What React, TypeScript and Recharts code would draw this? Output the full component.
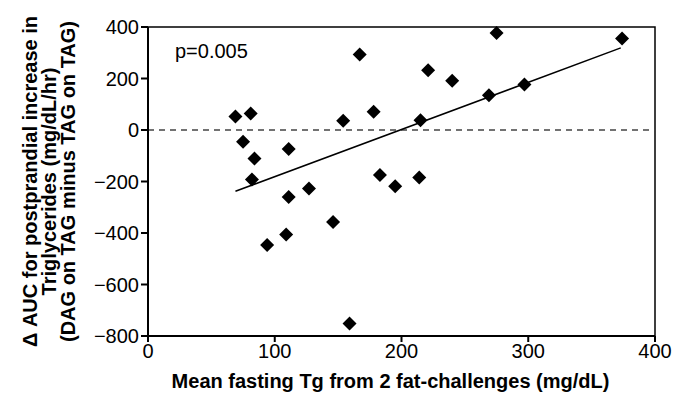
import {
  ScatterChart,
  Scatter,
  XAxis,
  YAxis,
  ReferenceLine,
  ReferenceArea,
  Label
} from "recharts";

// mean fasting Tg (mg/dL) and delta AUC
const fastingTg = [69, 81, 75, 84, 82, 111, 167, 154, 178, 183, 195, 111, 127, 146, 109, 94, 159, 275, 374, 221, 240, 269, 297, 215, 214];
const deltaAuc = [52, 64, -46, -111, -192, -74, 293, 36, 71, -175, -218, -260, -227, -357, -406, -447, -751, 377, 355, 232, 191, 135, 177, 38, -184];

// regression line end points
const fitX = [69, 373];
const fitY = [-238, 319];

const xTicks = [0, 100, 200, 300, 400];
const yTicks = [-800, -600, -400, -200, 0, 200, 400];

const points = fastingTg.map((x, i) => ({ x, y: deltaAuc[i] }));
const fit = fitX.map((x, i) => ({ x, y: fitY[i] }));

const font = "Arial, 'Liberation Sans', sans-serif";

function Diamond(props: any) {
  const { cx, cy } = props;
  const r = 7;
  return (
    <polygon
      points={`${cx},${cy - r} ${cx + r},${cy} ${cx},${cy + r} ${cx - r},${cy}`}
      fill="#000"
    />
  );
}

function YTitle(props: any) {
  const { viewBox } = props;
  const cy = viewBox.y + viewBox.height / 2;
  const lines = [
    "\u0394 AUC for postprandial increase in",
    "Triglycerides (mg/dL/hr)",
    "(DAG on TAG minus TAG on TAG)"
  ];
  const xs = [30, 49, 68];
  return (
    <g>
      {lines.map((t, i) => (
        <text
          key={i}
          x={xs[i]}
          y={cy}
          transform={`rotate(-90, ${xs[i]}, ${cy})`}
          textAnchor="middle"
          dominantBaseline="central"
          fontFamily={font}
          fontWeight="bold"
          fontSize={20}
          fill="#000"
        >
          {t}
        </text>
      ))}
    </g>
  );
}

export default function App() {
  return (
    <div style={{ position: "absolute", left: 0, top: 0, width: 686, height: 403, background: "#fff" }}>
      <ScatterChart
        width={686}
        height={403}
        margin={{ top: 27, right: 31, bottom: 37, left: 88 }}
      >
        <XAxis
          type="number"
          dataKey="x"
          domain={[0, 400]}
          ticks={xTicks}
          height={30}
          stroke="#000"
          strokeWidth={2}
          tickSize={6}
          tick={{ fill: "#000", fontSize: 20, fontFamily: font }}
        >
          <Label
            value="Mean fasting Tg from 2 fat-challenges (mg/dL)"
            position="bottom"
            offset={8}
            dx={-11}
            style={{ fontFamily: font, fontWeight: "bold", fontSize: 20, fill: "#000" }}
          />
        </XAxis>
        <YAxis
          type="number"
          dataKey="y"
          domain={[-800, 400]}
          ticks={yTicks}
          width={60}
          stroke="#000"
          strokeWidth={2}
          tickSize={7}
          tick={{ fill: "#000", fontSize: 20, fontFamily: font }}
          tickFormatter={(v: number) => (v < 0 ? `\u2212${Math.abs(v)}` : `${v}`)}
        >
          <Label content={<YTitle />} />
        </YAxis>
        <ReferenceArea x1={0} x2={400} y1={-800} y2={400} fill="none" stroke="#000" strokeWidth={1.5} />
        <ReferenceLine y={0} stroke="#444" strokeDasharray="6 5" strokeWidth={1.5} />
        <Scatter data={fit} line={{ stroke: "#000", strokeWidth: 1.5 }} shape={() => null} isAnimationActive={false} />
        <Scatter data={points} shape={<Diamond />} isAnimationActive={false} />
      </ScatterChart>
      <div
        style={{
          position: "absolute",
          left: 175,
          top: 40,
          fontFamily: font,
          fontSize: 20,
          color: "#000",
          lineHeight: "22px"
        }}
      >
        p=0.005
      </div>
    </div>
  );
}
